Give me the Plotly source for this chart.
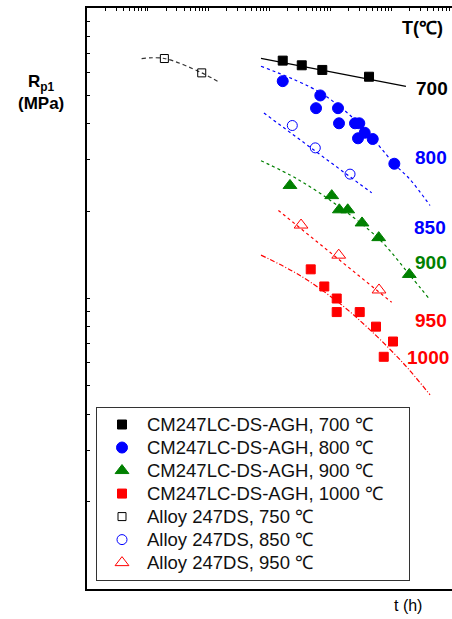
import plotly.graph_objects as go

# --- CM247LC-DS-AGH measurements (time to 1 % creep strain, stress) ---
t_700 = [165, 339, 738, 4325]
s_700 = [659, 635, 612, 580]

t_800 = [165, 684, 582, 1337, 1389, 2545, 2994, 3675, 2851, 4977, 11270]
s_800 = [560, 500, 452, 452, 401, 401, 401, 372, 356, 354, 291]

t_900 = [217, 1054, 1406, 1931, 3318, 6240, 19870]
s_900 = [245, 226, 202, 202, 182, 162, 121]

t_1000 = [476, 796, 1273, 1273, 3041, 5634, 10720, 7550]
s_1000 = [126, 110, 100, 89.8, 89.8, 80, 71.1, 63]

# --- Alloy 247DS reference data ---
t_750 = [1.87, 7.69]
s_750 = [670, 598]

t_850 = [237, 566, 2108]
s_850 = [394, 330, 268]

t_950 = [330, 1374, 6310]
s_950 = [179, 141, 107]

# --- fitted trend curves ---
fit_t_700 = [72.5, 17500]
fit_s_700 = [671, 537]

fit_t_800 = [72.5, 676, 3076, 11570, 20400, 43500]
fit_s_800 = [630, 512, 397, 289, 257, 209]

fit_t_900 = [72.5, 294, 1443, 6560, 19870, 43500]
fit_s_900 = [298, 257, 206, 159, 121, 99]

fit_t_1000 = [72.5, 318, 1443, 4490, 15660, 43500]
fit_s_1000 = [141, 120, 96, 78, 60, 46.6]

fit_t_750 = [0.79, 1.87, 7.69, 15.4]
fit_s_750 = [670, 670, 598, 553]

fit_t_850 = [81, 4790]
fit_s_850 = [435, 231]

fit_t_950 = [140, 10200]
fit_s_950 = [201, 97]

temp_labels = ["700", "800", "850", "900", "950", "1000"]

BLUE = "#0000ff"
GREEN = "#008000"
RED = "#ff0000"
BLACK = "#000000"
FONT = "Liberation Sans, Arial, sans-serif"

# plot area in pixels (left, right, top, bottom)
L, R, T, B = 87, 452, 8, 589


def px(x, y):
    """Pixel position -> paper coordinates for text placement."""
    return (x - L) / (R - L), (B - y) / (B - T)


fig = go.Figure()

# trend curves (not in legend)
curves = [
    (fit_t_700, fit_s_700, BLACK, "solid", "linear"),
    (fit_t_750, fit_s_750, "#333333", "4px,3px", "spline"),
    (fit_t_800, fit_s_800, BLUE, "3px,3px", "spline"),
    (fit_t_850, fit_s_850, BLUE, "3px,3px", "linear"),
    (fit_t_900, fit_s_900, GREEN, "3px,3px", "spline"),
    (fit_t_950, fit_s_950, RED, "3px,3px", "linear"),
    (fit_t_1000, fit_s_1000, RED, "5px,2px,1px,2px", "spline"),
]
for tx, sy, col, dash, shape in curves:
    fig.add_trace(go.Scatter(
        x=tx, y=sy, mode="lines", showlegend=False, hoverinfo="skip",
        line=dict(color=col, width=1.2, dash=dash, shape=shape),
    ))

series = [
    (t_700, s_700, "CM247LC-DS-AGH, 700 ℃", "square", BLACK, 9),
    (t_800, s_800, "CM247LC-DS-AGH, 800 ℃", "circle", BLUE, 11),
    (t_900, s_900, "CM247LC-DS-AGH, 900 ℃", "triangle-up", GREEN, 12),
    (t_1000, s_1000, "CM247LC-DS-AGH, 1000 ℃&nbsp;&nbsp;&nbsp;&nbsp;",
     "square", RED, 9),
    (t_750, s_750, "Alloy 247DS, 750 ℃", "square-open", BLACK, 8),
    (t_850, s_850, "Alloy 247DS, 850 ℃", "circle-open", BLUE, 10),
    (t_950, s_950, "Alloy 247DS, 950 ℃", "triangle-up-open", RED, 12),
]
for tx, sy, name, sym, col, size in series:
    fig.add_trace(go.Scatter(
        x=tx, y=sy, mode="markers",
        name=f"<span style='font-size:18.5px'>{name}</span>",
        marker=dict(symbol=sym, color=col, size=size,
                    line=dict(color=col, width=1)),
    ))

annotations = []

# temperature labels at the right end of each curve
label_pos = [(432, 88, BLACK), (430.5, 157.5, BLUE), (430, 227.5, BLUE),
             (431, 262.5, GREEN), (431, 320.5, RED), (428, 357.5, RED)]
for txt, (lx, ly, col) in zip(temp_labels, label_pos):
    ax, ay = px(lx, ly)
    annotations.append(dict(
        xref="paper", yref="paper", x=ax, y=ay,
        xanchor="center", yanchor="middle",
        text=f"<b>{txt}</b>", showarrow=False,
        font=dict(family=FONT, size=19, color=col),
    ))

for text, (lx, ly), size in [
    ("<b>T(℃)</b>", (422, 28), 18),
    ("t (h)", (408, 605), 16),
    ("<b>R<sub>p1</sub><br>(MPa)</b>", (41, 92), 17),
]:
    ax, ay = px(lx, ly)
    annotations.append(dict(
        xref="paper", yref="paper", x=ax, y=ay,
        xanchor="center", yanchor="middle",
        text=text, showarrow=False,
        font=dict(family=FONT, size=size, color=BLACK),
    ))

lgx, lgy = px(96, 407)

fig.update_layout(
    width=452, height=619,
    margin=dict(l=L, r=452 - R, t=T, b=619 - B),
    paper_bgcolor="white", plot_bgcolor="white",
    font=dict(family=FONT, color=BLACK),
    annotations=annotations,
    legend=dict(
        x=lgx, y=lgy, xanchor="left", yanchor="top",
        bgcolor="white", bordercolor="#333333", borderwidth=1,
        font=dict(family=FONT, size=15.4, color="#111111"),
        tracegroupgap=0, itemwidth=40,
    ),
    xaxis=dict(
        type="log", range=[-1, 5], side="top",
        showgrid=False, zeroline=False,
        showline=True, linecolor=BLACK, linewidth=2, mirror=True,
        ticks="inside", ticklen=3, tickcolor=BLACK, dtick="D1",
        showticklabels=False,
    ),
    yaxis=dict(
        type="log", range=[1, 3],
        showgrid=False, zeroline=False,
        showline=True, linecolor=BLACK, linewidth=2,
        ticks="inside", ticklen=3, tickcolor=BLACK, dtick="D1",
        showticklabels=False,
    ),
)

fig.write_html("out.html")
